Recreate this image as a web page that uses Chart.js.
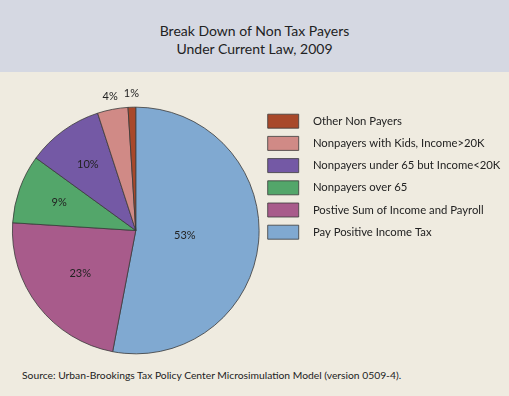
<!DOCTYPE html>
<html>
<head>
<meta charset="utf-8">
<script src="https://cdn.jsdelivr.net/npm/chart.js@4"></script>
<style>
  html, body { margin: 0; padding: 0; }
  body { width: 509px; height: 396px; background: #efebe0; position: relative; overflow: hidden;
         font-family: Lato, "Open Sans", sans-serif; color: #222; }
  .header { position: absolute; left: 0; top: 0; width: 509px; height: 72px; background: #d5d8e2;
            text-align: center; font-size: 14px; line-height: 18px; }
  .header div { padding-top: 22px; }
  #chartWrap { position: absolute; left: 0; top: 72px; width: 509px; height: 290px; }
  .source { position: absolute; left: 22px; top: 369px; font-size: 10.3px; color: #222; }
</style>
</head>
<body>
<div class="header"><div>Break Down of Non Tax Payers<br>Under Current Law, 2009</div></div>
<div id="chartWrap"><canvas id="pieChart" width="509" height="290"></canvas></div>
<div class="source">Source: Urban-Brookings Tax Policy Center Microsimulation Model (version 0509-4).</div>

<script>
// ---------- data (clockwise from 12 o'clock) ----------
const categories = [
    'Pay Positive Income Tax',
    'Postive Sum of Income and Payroll',
    'Nonpayers over 65',
    'Nonpayers under 65 but Income<20K',
    'Nonpayers with Kids, Income>20K',
    'Other Non Payers'
];
const shares = [53, 23, 9, 10, 4, 1];
const sliceColors = ['#80a9d1', '#a85b8b', '#53a66a', '#7459a5', '#d08a86', '#a8482a'];

// where each % label sits, as a fraction of the radius
const labelRadius = [0.4, 0.57, 0.66, 0.66, 1.11, 1.11];

// simple label plugin (no datalabels available)
const pctLabels = {
    id: 'pctLabels',
    afterDatasetsDraw(chart) {
        const ctx = chart.ctx;
        const meta = chart.getDatasetMeta(0);
        ctx.save();
        ctx.font = '11px Lato, "Open Sans", sans-serif';
        ctx.fillStyle = '#222';
        ctx.textAlign = 'center';
        ctx.textBaseline = 'middle';
        meta.data.forEach((arc, i) => {
            const mid = (arc.startAngle + arc.endAngle) / 2;
            const r = arc.outerRadius * labelRadius[i];
            const x = arc.x + Math.cos(mid) * r;
            const y = arc.y + Math.sin(mid) * r;
            ctx.fillText(shares[i] + '%', x, y);
        });
        ctx.restore();
    }
};

new Chart(document.getElementById('pieChart'), {
    type: 'pie',
    data: {
        labels: categories,
        datasets: [{
            data: shares,
            backgroundColor: sliceColors,
            borderColor: '#3a3a3a',
            borderWidth: 0.8,
            hoverOffset: 0
        }]
    },
    options: {
        responsive: false,
        animation: false,
        layout: { padding: { top: 34, bottom: 7, left: 12, right: 2 } },
        plugins: {
            tooltip: { enabled: false },
            legend: {
                position: 'right',
                align: 'start',
                reverse: true,
                labels: {
                    boxWidth: 31,
                    boxHeight: 14,
                    padding: 8.2,
                    color: '#222',
                    font: { family: 'Lato, "Open Sans", sans-serif', size: 11.3 },
                    // a bit more room between box and text
                    generateLabels(chart) {
                        const items = Chart.overrides.pie.plugins.legend.labels.generateLabels(chart);
                        items.forEach(it => { it.text = '\u2002 ' + it.text; });
                        return items;
                    }
                }
            }
        }
    },
    plugins: [pctLabels]
});
</script>
</body>
</html>
